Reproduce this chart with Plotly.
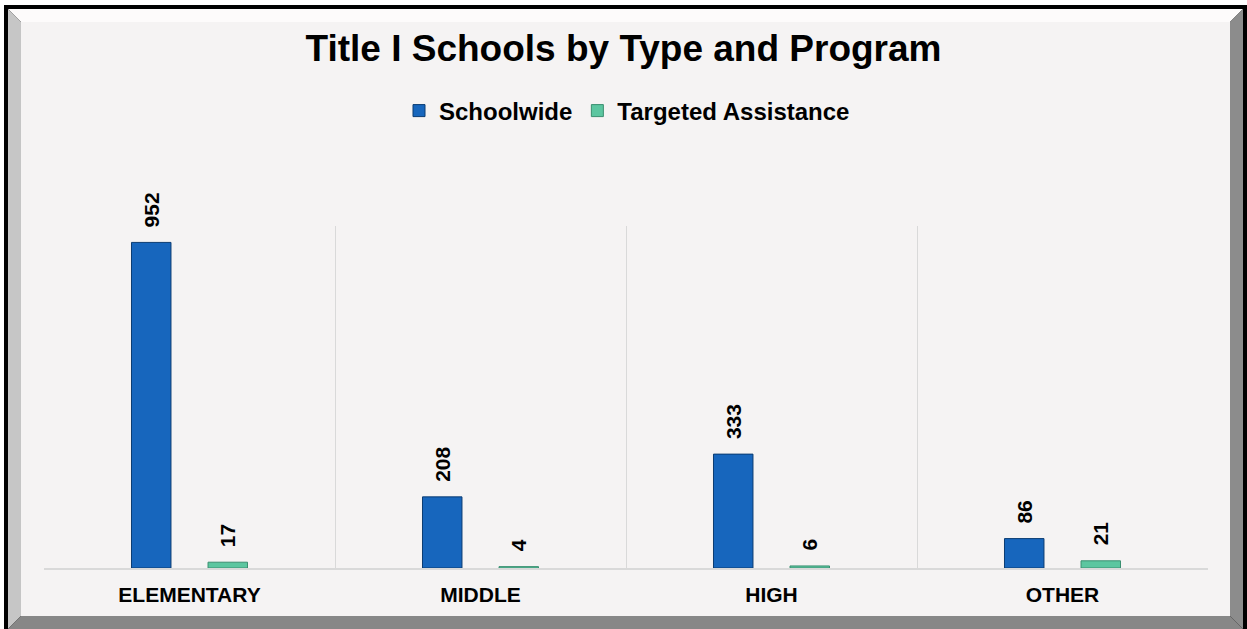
import plotly.graph_objects as go

# Title I school counts by school type and program
categories = ["ELEMENTARY", "MIDDLE", "HIGH", "OTHER"]
schoolwide = [952, 208, 333, 86]
targeted = [17, 4, 6, 21]
series_names = ["Schoolwide", "Targeted Assistance"]
chart_title = "Title I Schools by Type and Program"
y_max = 1000

W, H = 1247, 629
# plot-area box in pixels
L, R, T, B = 44, 1208, 226, 568

FONT = "Arial, 'Liberation Sans', sans-serif"
BLUE = "#1766BD"
BLUE_EDGE = "#0B3C72"
TEAL = "#5CC6A0"
TEAL_EDGE = "#3A8F70"
INNER_BG = "#F5F3F3"


def fx(x):
    return (x - L) / (R - L)


def fy(y):
    return (B - y) / (B - T)


def poly(points, color):
    d = "M " + " L ".join(f"{fx(x):.5f},{fy(y):.5f}" for x, y in points) + " Z"
    return dict(type="path", xref="paper", yref="paper", path=d,
                fillcolor=color, line=dict(width=0), layer="below")


fig = go.Figure()
fig.add_trace(go.Bar(
    name=series_names[0], x=categories, y=schoolwide,
    marker=dict(color=BLUE, line=dict(color=BLUE_EDGE, width=1)),
))
fig.add_trace(go.Bar(
    name=series_names[1], x=categories, y=targeted,
    marker=dict(color=TEAL, line=dict(color=TEAL_EDGE, width=1)),
))

# rotated value labels above each bar
annotations = []
for vals, shift in ((schoolwide, -38), (targeted, 38)):
    for cat, v in zip(categories, vals):
        annotations.append(dict(
            x=cat, y=v, xref="x", yref="y", text=str(v), showarrow=False,
            textangle=-90, xanchor="center", yanchor="bottom",
            xshift=shift, yshift=13,
            font=dict(family=FONT, size=21, color="#000000", weight="bold"),
        ))

# beveled picture frame around the chart
shapes = [
    dict(type="rect", xref="paper", yref="paper",
         x0=fx(4), x1=fx(1252), y0=fy(5), y1=fy(640),
         fillcolor="#000000", line=dict(width=0), layer="below"),
    poly([(8, 9), (1243, 9), (1230, 22), (21, 22)], "#FDFBFB"),
    poly([(8, 9), (21, 22), (21, 616), (8, 629)], "#C6C6C6"),
    poly([(1243, 9), (1243, 629), (1230, 616), (1230, 22)], "#8C8C8C"),
    poly([(8, 629), (21, 616), (1230, 616), (1243, 629)], "#878787"),
    dict(type="rect", xref="paper", yref="paper",
         x0=fx(21), x1=fx(1230), y0=fy(22), y1=fy(616),
         fillcolor=INNER_BG, line=dict(width=0), layer="below"),
]

fig.update_layout(
    width=W, height=H,
    margin=dict(l=L, r=W - R, t=T, b=H - B, autoexpand=False),
    paper_bgcolor="#FFFFFF",
    plot_bgcolor="rgba(0,0,0,0)",
    barmode="group", bargap=0.474, bargroupgap=0.484,
    title=dict(text=chart_title, x=0.5, xanchor="center",
               y=1 - 48 / H, yanchor="middle",
               font=dict(family=FONT, size=37, color="#000000", weight="bold")),
    legend=dict(orientation="h", x=fx(627), xanchor="center",
                y=fy(111), yanchor="middle", bgcolor="rgba(0,0,0,0)",
                font=dict(family=FONT, size=24, color="#000000", weight="bold")),
    xaxis=dict(type="category", range=[-0.5, len(categories) - 0.5],
               tickson="boundaries", showgrid=True, gridcolor="#D9D9D9",
               gridwidth=1, showline=True, linecolor="#D9D9D9", linewidth=2,
               ticks="", ticklabelstandoff=7, zeroline=False,
               tickfont=dict(family=FONT, size=21, color="#000000", weight="bold")),
    yaxis=dict(range=[0, y_max], visible=False, showgrid=False, zeroline=False),
    shapes=shapes,
    annotations=annotations,
    showlegend=True,
)

fig.write_html("out.html")
